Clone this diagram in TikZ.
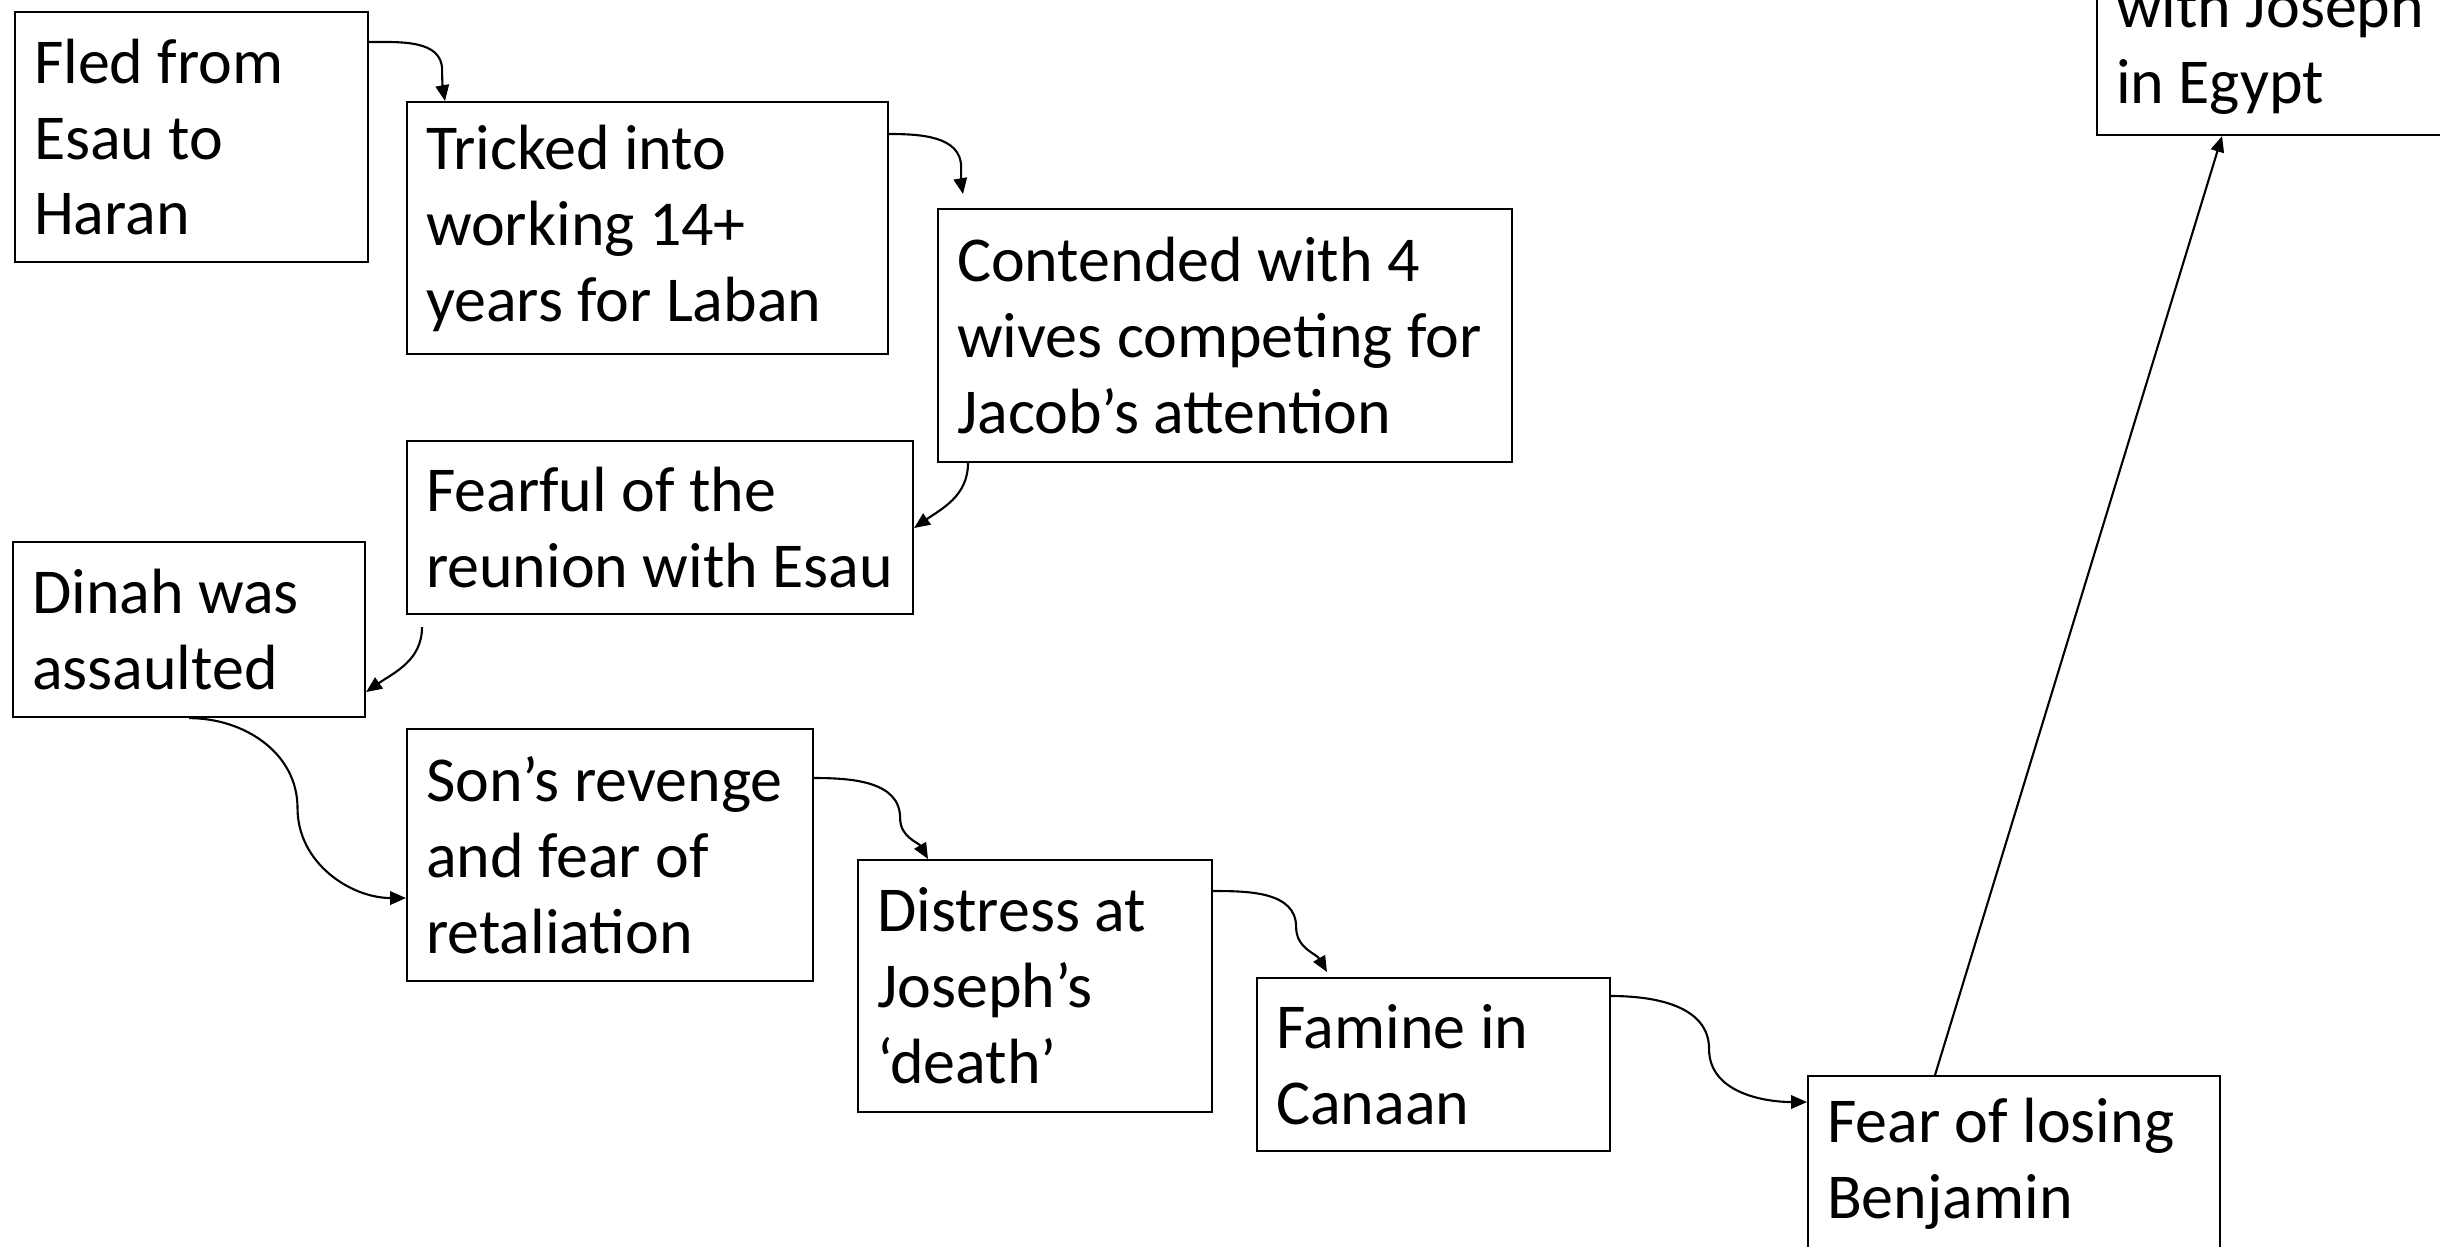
\documentclass[tikz,border=0pt]{standalone}
\usepackage{fontspec}
\setmainfont{Carlito}
\usetikzlibrary{calc}
\usetikzlibrary{arrows.meta}

\begin{document}
\begin{tikzpicture}[
  box/.style={draw=black, line width=0.6pt, anchor=north west, align=left,
    inner xsep=0.19cm, inner ysep=0.05cm,
    font=\fontsize{18.2}{21.6}\selectfont},
  link/.style={line width=0.6pt, -{Triangle[length=4.5pt,width=3.8pt]}}
]

\useasboundingbox (0,0) rectangle (24.4,-12.46);

\newcommand{\eventbox}[6]{
  \node[box, text width=#4cm, minimum height=#5cm] (#1) at (#2,#3)
    {\spaceskip=0.226em\rightskip=0pt plus 1fil minus 0.5cm\relax #6};
}

\eventbox{fled}{0.14}{-0.11}{3.15}{2.50}{Fled from\\Esau to\\Haran}
\eventbox{tricked}{4.06}{-1.01}{4.43}{2.52}{Tricked into\\working 14+\\years for Laban}
\eventbox{contend}{9.37}{-2.08}{5.36}{2.53}{Contended with 4\\wives competing for\\Jacob’s attention}
\eventbox{fearful}{4.06}{-4.40}{4.68}{1.73}{Fearful of the\\reunion with Esau}
\eventbox{dinah}{0.12}{-5.41}{3.14}{1.75}{Dinah was\\assaulted}
\eventbox{sons}{4.06}{-7.28}{3.68}{2.52}{Son’s revenge\\and fear of\\retaliation}
\eventbox{distress}{8.57}{-8.59}{3.16}{2.52}{Distress at\\Joseph’s\\‘death’}
\eventbox{famine}{12.56}{-9.77}{3.15}{1.73}{Famine in\\Canaan}
\eventbox{fear}{18.07}{-10.75}{3.74}{1.75}{Fear of losing\\Benjamin}
\eventbox{egypt}{20.96}{0.39}{3.52}{1.73}{with Joseph\\in Egypt}

% connectors
\draw[link] ([yshift=-0.31cm]fled.north east) to[out=0,in=90] ++(0.73,-0.28)
  to[out=-90,in=100] ([xshift=0.39cm]tricked.north west);
\draw[link] ([yshift=-0.33cm]tricked.north east) to[out=0,in=90] ++(0.72,-0.33)
  to[out=-90,in=100] ($(contend.north west)+(0.26,0.14)$);
\draw[link] ([xshift=0.31cm]contend.south west) to[out=-90,in=35] ([yshift=-0.88cm]fearful.north east);
\draw[link] ($(fearful.south west)+(0.16,-0.12)$) to[out=-90,in=35] ([yshift=-1.51cm]dinah.north east);

\coordinate (sonsin) at ([yshift=-1.70cm]sons.north west);
\draw[link] (dinah.south) to[out=0,in=90] ($(dinah.south)!0.5!(sonsin)$)
  to[out=-90,in=180] (sonsin);

\draw[link] ([yshift=-0.50cm]sons.north east) to[out=0,in=90] ++(0.86,-0.40)
  to[out=-90,in=120] ([xshift=0.71cm]distress.north west);
\draw[link] ([yshift=-0.32cm]distress.north east) to[out=0,in=90] ++(0.83,-0.36)
  to[out=-90,in=120] ($(famine.north west)+(0.71,0.05)$);

\coordinate (famout) at ([yshift=-0.19cm]famine.north east);
\coordinate (fearin) at ([yshift=-0.27cm]fear.north west);
\draw[link] (famout) to[out=0,in=90] ($(famout)!0.5!(fearin)$)
  to[out=-90,in=180] (fearin);

\draw[link] ([xshift=1.28cm]fear.north west) -- ([xshift=1.26cm]egypt.south west);

\end{tikzpicture}
\end{document}
